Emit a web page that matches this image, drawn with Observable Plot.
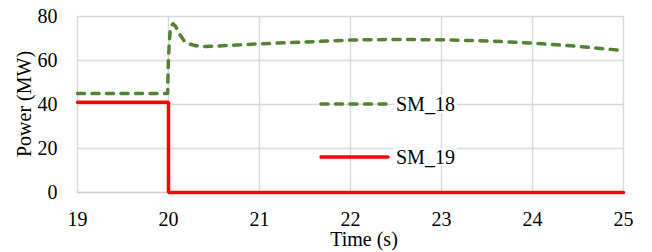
<!DOCTYPE html>
<html>
<head>
<meta charset="utf-8">
<script src="https://cdn.jsdelivr.net/npm/d3@7"></script>
<script src="https://cdn.jsdelivr.net/npm/@observablehq/plot@0.6"></script>
<style>
  html, body { margin: 0; padding: 0; background: #fff; }
  #chart { width: 652px; height: 252px; overflow: hidden; }
  #chart svg, #chart svg text { font-family: "Liberation Serif", "DejaVu Serif", serif !important; }
</style>
</head>
<body>
<div id="chart"></div>
<script>
// --- data ---
const seriesNames = ["SM_18", "SM_19"];
const t18 = [19, 19.99, 20.0, 20.02, 20.05, 20.08, 20.12, 20.17, 20.23, 20.3, 20.4, 20.5, 20.75, 21, 21.5, 22, 22.5, 23, 23.5, 24, 24.5, 25];
const p18 = [45, 45, 62, 75, 76.7, 75.5, 72, 69, 67.5, 66.7, 66.4, 66.5, 67, 67.6, 68.4, 69.3, 69.6, 69.4, 68.9, 67.9, 66.4, 64.5];
const t19 = [19, 20, 20, 25];
const p19 = [41, 41, 0, 0];
const xTicks = [19, 20, 21, 22, 23, 24, 25];
const yTicks = [0, 20, 40, 60, 80];
const xLabel = "Time (s)";
const yLabel = "Power (MW)";

const colors = {SM_18: "#548235", SM_19: "#ff0000"};
const font = "Liberation Serif, DejaVu Serif, serif";

const d18 = t18.map((t, i) => ({t, p: p18[i]}));
const d19 = t19.map((t, i) => ({t, p: p19[i]}));

const plot = Plot.plot({
  width: 652,
  height: 252,
  marginLeft: 77,
  marginRight: 29,
  marginTop: 16,
  marginBottom: 60,
  style: {fontFamily: font, fontSize: "20px", color: "#000", background: "#fff", overflow: "visible"},
  x: {domain: [19, 25], ticks: xTicks, tickSize: 0, tickPadding: 19, tickFormat: d => String(d), label: null},
  y: {domain: [0, 80], ticks: yTicks, tickSize: 0, tickPadding: 20, tickFormat: d => String(d), label: null},
  marks: [
    Plot.gridX(xTicks, {stroke: "#d9d9d9", strokeOpacity: 1, strokeWidth: 1.5}),
    Plot.gridY(yTicks, {stroke: "#d9d9d9", strokeOpacity: 1, strokeWidth: 1.5}),
    Plot.ruleY([0], {stroke: "#d0d0d0", strokeWidth: 1.5}),
    Plot.line(d18, {x: "t", y: "p", stroke: colors.SM_18, strokeWidth: 3.5, strokeDasharray: "7,7.5", strokeLinecap: "round", strokeLinejoin: "round"}),
    Plot.line(d19, {x: "t", y: "p", stroke: colors.SM_19, strokeWidth: 3.5, strokeLinejoin: "miter"})
  ]
});
document.getElementById("chart").appendChild(plot);

const svg = d3.select(plot);
// axis titles
svg.append("text")
  .attr("transform", "translate(31,104) rotate(-90)")
  .attr("text-anchor", "middle")
  .attr("font-size", 20).attr("fill", "#000")
  .text(yLabel);
svg.append("text")
  .attr("x", 364).attr("y", 246)
  .attr("text-anchor", "middle")
  .attr("font-size", 20).attr("fill", "#000")
  .text(xLabel);

// legend
const legendY = [104, 157];
seriesNames.forEach((name, i) => {
  const g = svg.append("g");
  const bg = g.append("rect").attr("fill", "#fff");
  g.append("line")
    .attr("x1", 321).attr("x2", 388)
    .attr("y1", legendY[i]).attr("y2", legendY[i])
    .attr("stroke", colors[name]).attr("stroke-width", 3.5)
    .attr("stroke-dasharray", i === 0 ? "7,7.5" : null)
    .attr("stroke-linecap", "round");
  const txt = g.append("text")
    .attr("x", 396).attr("y", legendY[i]).attr("dy", "0.35em")
    .attr("text-anchor", "start")
    .attr("font-size", 20).attr("fill", "#000")
    .text(name);
  const b = txt.node().getBBox();
  bg.attr("x", b.x - 2).attr("y", b.y + 2).attr("width", b.width + 4).attr("height", b.height - 4);
});
</script>
</body>
</html>
